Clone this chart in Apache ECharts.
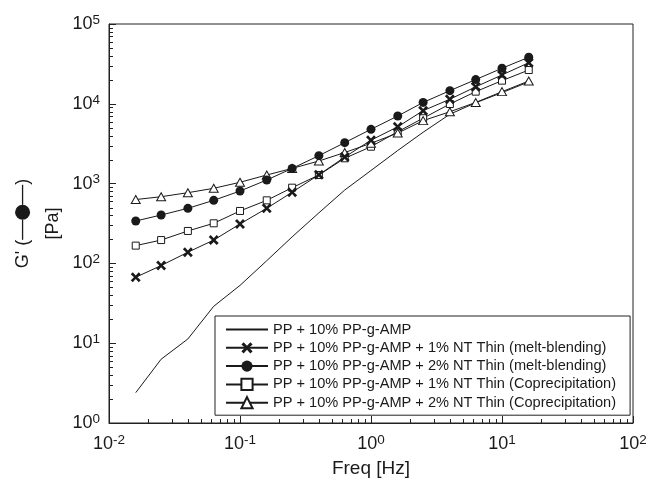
<!DOCTYPE html>
<html>
<head>
<meta charset="utf-8">
<script src="https://cdn.jsdelivr.net/npm/echarts@6/dist/echarts.min.js"></script>
<style>
html,body{margin:0;padding:0;background:#fff;}
#chart{width:646px;height:479px;}
</style>
</head>
<body>
<div id="chart"></div>
<script>
const freq = [0.016, 0.025, 0.04, 0.063, 0.1, 0.16, 0.25, 0.4, 0.63, 1.0, 1.6, 2.5, 4.0, 6.3, 10, 16];
const ppAmp = [2.4, 6.3, 11.3, 29, 53, 108, 215, 430, 830, 1460, 2600, 4400, 7400, 10300, 13800, 18800];
const melt1 = [67, 94, 138, 196, 312, 490, 780, 1290, 2150, 3500, 5150, 8200, 11400, 16300, 23000, 32700];
const melt2 = [340, 404, 490, 617, 807, 1109, 1550, 2238, 3260, 4790, 7030, 10400, 14600, 20100, 27900, 38300];
const copre1 = [167, 196, 255, 318, 454, 617, 889, 1282, 2075, 2900, 4470, 6600, 9940, 14200, 19500, 26500];
const copre2 = [631, 685, 769, 873, 1038, 1282, 1550, 1919, 2450, 3200, 4300, 6150, 7950, 10400, 14200, 19300];
const seriesNames = [
  'PP + 10% PP-g-AMP',
  'PP + 10% PP-g-AMP + 1% NT Thin (melt-blending)',
  'PP + 10% PP-g-AMP + 2% NT Thin (melt-blending)',
  'PP + 10% PP-g-AMP + 1% NT Thin (Coprecipitation)',
  'PP + 10% PP-g-AMP + 2% NT Thin (Coprecipitation)'
];
const xTitle = 'Freq [Hz]';
const xMin = 0.01, xMax = 100, yMin = 1, yMax = 100000;

const FONT = '"Liberation Sans", Arial, sans-serif';
const INK = '#1a1a1a';

function pairs(ys) { return freq.map((f, i) => [f, ys[i]]); }
function powLabel(v) { return '{b|10}{s|' + Math.round(Math.log10(v)) + '}'; }
const labelRich = {
  b: { fontSize: 18, lineHeight: 22, fontFamily: FONT, color: INK },
  s: { fontSize: 13.5, lineHeight: 13, verticalAlign: 'top', fontFamily: FONT, color: INK }
};

// minor tick values (2..9 x 10^k)
const xMinor = [], yMinor = [];
for (let k = -2; k < 2; k++) for (let m = 2; m <= 9; m++) xMinor.push([m * Math.pow(10, k), yMin]);
for (let k = 0; k < 5; k++) for (let m = 2; m <= 9; m++) yMinor.push([xMin, m * Math.pow(10, k)]);

const xPath = 'path://M0,2 L2,0 L5,3.2 L8,0 L10,2 L6.8,5 L10,8 L8,10 L5,6.8 L2,10 L0,8 L3.2,5 Z';

const chart = echarts.init(document.getElementById('chart'), null, { renderer: 'canvas' });
const lineStyle = { color: INK, width: 1 };
chart.setOption({
  animation: false,
  backgroundColor: '#fff',
  grid: { left: 109, right: 13, top: 24, bottom: 56, show: true, borderColor: '#222', borderWidth: 1, backgroundColor: 'transparent', containLabel: false, outerBoundsMode: 'none' },
  legend: {
    data: [{ name: seriesNames[0], itemStyle: { opacity: 0 } }, seriesNames[1], seriesNames[2], seriesNames[3], seriesNames[4]],
    orient: 'vertical',
    left: 215, top: 316,
    padding: [6, 14, 5, 10],
    itemWidth: 42, itemHeight: 14, itemGap: 3.3,
    backgroundColor: '#fff',
    borderColor: '#222', borderWidth: 1,
    textStyle: { fontSize: 14.6, fontFamily: FONT, color: INK },
    z: 10
  },
  xAxis: {
    type: 'log', logBase: 10, min: xMin, max: xMax,
    name: xTitle, nameLocation: 'middle', nameGap: 36,
    nameTextStyle: { fontSize: 19, fontFamily: FONT, color: INK },
    axisLine: { lineStyle: { color: '#222' } },
    axisTick: { inside: true, length: 7, lineStyle: { color: '#222' } },
    axisLabel: { margin: 10, formatter: powLabel, rich: labelRich },
    splitLine: { show: false }
  },
  yAxis: {
    type: 'log', logBase: 10, min: yMin, max: yMax,
    name: "{a|G' (}{d| }{c| }{d| }{a|)}\n{a|[Pa]}",
    nameLocation: 'middle', nameRotate: 90, nameGap: 41,
    nameTextStyle: {
      align: 'center',
      rich: {
        a: { fontSize: 18, lineHeight: 30, fontFamily: FONT, color: INK },
        d: { width: 20, height: 1.3, backgroundColor: INK },
        c: { width: 15, height: 15, borderRadius: 7.5, backgroundColor: INK }
      }
    },
    axisLine: { lineStyle: { color: '#222' } },
    axisTick: { inside: true, length: 7, lineStyle: { color: '#222' } },
    axisLabel: { margin: 9, formatter: powLabel, rich: labelRich },
    splitLine: { show: false }
  },
  series: [
    { name: seriesNames[0], type: 'line', data: pairs(ppAmp), symbol: 'none', lineStyle: lineStyle, itemStyle: { color: INK }, z: 2 },
    { name: seriesNames[1], type: 'line', data: pairs(melt1), symbol: xPath, symbolSize: 10, lineStyle: lineStyle, itemStyle: { color: INK }, z: 4 },
    { name: seriesNames[2], type: 'line', data: pairs(melt2), symbol: 'circle', symbolSize: 9, lineStyle: lineStyle, itemStyle: { color: INK }, z: 5 },
    { name: seriesNames[3], type: 'line', data: pairs(copre1), symbol: 'rect', symbolSize: 7, lineStyle: lineStyle, itemStyle: { color: '#fff', borderColor: INK, borderWidth: 1 }, z: 3 },
    { name: seriesNames[4], type: 'line', data: pairs(copre2), symbol: 'triangle', symbolSize: [9, 8], lineStyle: lineStyle, itemStyle: { color: '#fff', borderColor: INK, borderWidth: 1 }, z: 3 },
    {
      name: 'xMinorTicks', type: 'custom', data: xMinor, clip: false, silent: true, z: 1,
      renderItem: function (params, api) {
        const p = api.coord([api.value(0), api.value(1)]);
        const x = Math.round(p[0]) + 0.5;
        return { type: 'line', shape: { x1: x, y1: p[1], x2: x, y2: p[1] - 4 }, style: { stroke: '#222', lineWidth: 1 } };
      }
    },
    {
      name: 'yMinorTicks', type: 'custom', data: yMinor, clip: false, silent: true, z: 1,
      renderItem: function (params, api) {
        const p = api.coord([api.value(0), api.value(1)]);
        const y = Math.round(p[1]) + 0.5;
        return { type: 'line', shape: { x1: p[0], y1: y, x2: p[0] + 4, y2: y }, style: { stroke: '#222', lineWidth: 1 } };
      }
    }
  ]
});
</script>
</body>
</html>
